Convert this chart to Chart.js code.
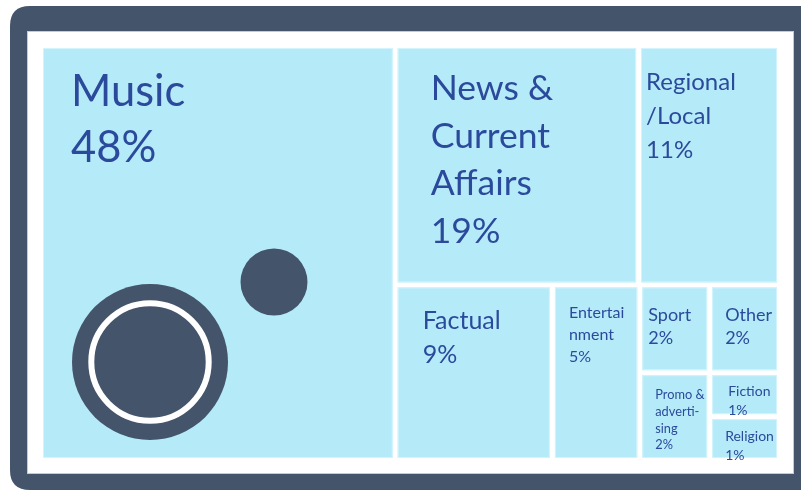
<!DOCTYPE html>
<html>
<head>
<meta charset="utf-8">
<script src="https://cdn.jsdelivr.net/npm/chart.js@4.4.1/dist/chart.umd.min.js"></script>
<style>
  html, body { margin: 0; padding: 0; background: #ffffff; }
  #wrap { width: 801px; height: 491px; position: relative; }
  canvas { display: block; }
</style>
</head>
<body>
<div id="wrap"><canvas id="c" width="801" height="491"></canvas></div>
<script>
// ---- data ----
const categories = ["Music", "News & Current Affairs", "Regional/Local", "Factual", "Entertainment",
                    "Sport", "Other", "Promo & advertising", "Fiction", "Religion"];
const values = [48, 19, 11, 9, 5, 2, 2, 2, 1, 1];
const labelLines = [
  ["Music"], ["News &", "Current", "Affairs"], ["Regional", "/Local"], ["Factual"],
  ["Entertai", "nment"], ["Sport"], ["Other"], ["Promo &", "adverti-", "sing"], ["Fiction"], ["Religion"]
];

// ---- styles (text size / offset inside each tile) ----
const labelStyle = {
  "Music":                  { size: 43.5, dx: 28, dy: 58, lh: 56 },
  "News & Current Affairs": { size: 35.5, dx: 33, dy: 52, lh: 47.7 },
  "Regional/Local":         { size: 24, dx: 5,  dy: 42, lh: 34 },
  "Factual":                { size: 25, dx: 25, dy: 42, lh: 34 },
  "Entertainment":          { size: 16, dx: 14, dy: 31, lh: 22 },
  "Sport":                  { size: 18, dx: 6,  dy: 34, lh: 23 },
  "Other":                  { size: 18, dx: 13, dy: 34, lh: 23 },
  "Promo & advertising":    { size: 12.8, dx: 13, dy: 24, lh: 16.7 },
  "Fiction":                { size: 14, dx: 16, dy: 21, lh: 19 },
  "Religion":               { size: 14, dx: 13, dy: 22, lh: 19 }
};
const FRAME = '#44546A', TILE = '#B5EBF8', TILE_EDGE = '#D3F4FC', TEXT = '#2B4A9C';
const GAP = 5;

// squarified treemap layout in pixel space
function worst(row, s) {
  let sum = 0, mx = -Infinity, mn = Infinity;
  row.forEach(r => { sum += r.a; mx = Math.max(mx, r.a); mn = Math.min(mn, r.a); });
  return Math.max(s * s * mx / (sum * sum), (sum * sum) / (s * s * mn));
}
function squarify(vals, x, y, w, h) {
  const total = vals.reduce((a, b) => a + b, 0);
  const k = w * h / total;
  let rem = vals.map((v, i) => ({ i, a: v * k }));
  const out = [];
  while (rem.length) {
    const s = Math.min(w, h);
    let row = [rem[0]], n = 1;
    while (n < rem.length) {
      const cand = row.concat([rem[n]]);
      if (worst(cand, s) <= worst(row, s)) { row = cand; n++; } else break;
    }
    const ra = row.reduce((a, r) => a + r.a, 0);
    if (w >= h) {
      const cw = ra / h; let cy = y;
      row.forEach(r => { const ch = r.a / cw; out[r.i] = { x, y: cy, w: cw, h: ch }; cy += ch; });
      x += cw; w -= cw;
    } else {
      const rh = ra / w; let cx = x;
      row.forEach(r => { const rw = r.a / rh; out[r.i] = { x: cx, y, w: rw, h: rh }; cx += rw; });
      y += rh; h -= rh;
    }
    rem = rem.slice(n);
  }
  return out;
}

function roundRect(ctx, x, y, w, h, r) {
  ctx.beginPath();
  ctx.moveTo(x + r, y);
  ctx.lineTo(x + w - r, y); ctx.quadraticCurveTo(x + w, y, x + w, y + r);
  ctx.lineTo(x + w, y + h - r); ctx.quadraticCurveTo(x + w, y + h, x + w - r, y + h);
  ctx.lineTo(x + r, y + h); ctx.quadraticCurveTo(x, y + h, x, y + h - r);
  ctx.lineTo(x, y + r); ctx.quadraticCurveTo(x, y, x + r, y);
  ctx.closePath();
}

const treemapPlugin = {
  id: 'treemapRadio',
  beforeDraw(chart) {
    const ctx = chart.ctx;
    ctx.save();
    ctx.fillStyle = FRAME;
    roundRect(ctx, 10, 6, 820, 484, 20);
    ctx.fill();
    ctx.fillStyle = '#ffffff';
    ctx.fillRect(28, 32, 765, 441);
    ctx.strokeStyle = '#C5CBD3';
    ctx.lineWidth = 1;
    ctx.strokeRect(27.5, 31.5, 766, 442);
    ctx.restore();
  },
  afterDatasetsDraw(chart) {
    const ctx = chart.ctx;
    const xs = chart.scales.x, ys = chart.scales.y;
    const x0 = xs.getPixelForValue(0), x1 = xs.getPixelForValue(100);
    const yTop = ys.getPixelForValue(100), yBot = ys.getPixelForValue(0);
    const ds = chart.data.datasets[0];
    const vals = ds.treeValues;
    const rects = squarify(vals, x0, yTop, x1 - x0, yBot - yTop);
    ctx.save();
    rects.forEach((r) => {
      const rx = r.x + GAP / 2, ry = r.y + GAP / 2, rw = r.w - GAP, rh = r.h - GAP;
      ctx.fillStyle = TILE;
      ctx.fillRect(rx, ry, rw, rh);
      ctx.strokeStyle = TILE_EDGE;
      ctx.lineWidth = 1;
      ctx.strokeRect(rx + 0.5, ry + 0.5, rw - 1, rh - 1);
      r.inner = { x: rx, y: ry, w: rw, h: rh };
    });
    // speaker / knob decoration on the big tile
    const m = rects[0].inner;
    const cx = m.x + 107, cy = m.y + 314;
    ctx.fillStyle = FRAME;
    ctx.beginPath(); ctx.arc(cx, cy, 78, 0, Math.PI * 2); ctx.fill();
    ctx.strokeStyle = '#ffffff'; ctx.lineWidth = 6;
    ctx.beginPath(); ctx.arc(cx, cy, 58.7, 0, Math.PI * 2); ctx.stroke();
    ctx.fillStyle = FRAME;
    ctx.beginPath(); ctx.arc(m.x + 231, m.y + 234, 33.5, 0, Math.PI * 2); ctx.fill();
    // labels
    ctx.fillStyle = TEXT;
    ctx.textBaseline = 'alphabetic';
    ctx.textAlign = 'left';
    rects.forEach((r, i) => {
      const name = chart.data.labels[i];
      const st = labelStyle[name];
      const lines = ds.labelLines[i].concat([vals[i] + '%']);
      ctx.font = st.size + 'px Lato';
      lines.forEach((t, j) => {
        ctx.fillText(t, r.inner.x + st.dx, r.inner.y + st.dy + j * st.lh);
      });
    });
    ctx.restore();
  }
};

new Chart(document.getElementById('c'), {
  type: 'scatter',
  data: {
    labels: categories,
    datasets: [{
      label: 'Share of output',
      data: [],
      treeValues: values,
      labelLines: labelLines
    }]
  },
  options: {
    responsive: false,
    animation: false,
    layout: { padding: { left: 40.5, right: 21.5, top: 45.5, bottom: 30.5 } },
    scales: {
      x: { type: 'linear', min: 0, max: 100, display: false },
      y: { type: 'linear', min: 0, max: 100, display: false }
    },
    plugins: { legend: { display: false }, tooltip: { enabled: false } }
  },
  plugins: [treemapPlugin]
});
</script>
</body>
</html>
